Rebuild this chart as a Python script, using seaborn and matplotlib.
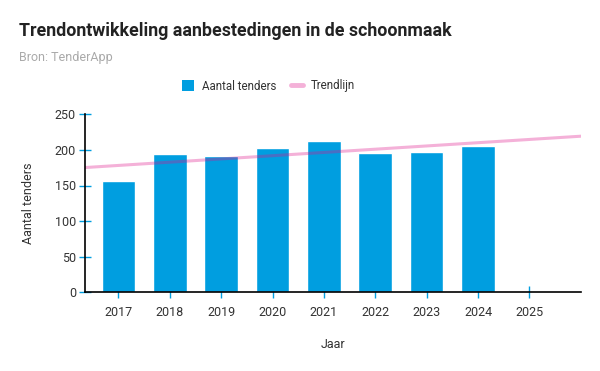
import numpy as np
import pandas as pd
import matplotlib
matplotlib.use("Agg")
import matplotlib.pyplot as plt
import seaborn as sns
from matplotlib.patches import Patch
from matplotlib.lines import Line2D

years = ["2017", "2018", "2019", "2020", "2021", "2022", "2023", "2024", "2025"]
tenders = [156, 194, 191, 202, 212, 196, 197, 205, np.nan]
title = "Trendontwikkeling aanbestedingen in de schoonmaak"
subtitle = "Bron: TenderApp"
bar_label = "Aantal tenders"
trend_label = "Trendlijn"
x_label = "Jaar"
y_label = "Aantal tenders"
y_ticks = [0, 50, 100, 150, 200, 250]

sns.set_theme(style="white")
plt.rcParams["font.family"] = ["Roboto", "DejaVu Sans"]

BLUE = "#009ee0"
PINK = "#de128a"
PINK_ALPHA = 0.33
TXT = "#333333"

df = pd.DataFrame({"year": years, "tenders": tenders})

fig = plt.figure(figsize=(6, 3.71), dpi=100)
ax = fig.add_axes([0.1417, 0.212, 0.968 - 0.1417, 0.692 - 0.212])

sns.barplot(data=df, x="year", y="tenders", order=years, color=BLUE,
            saturation=1, width=0.655, ax=ax, zorder=2)
ax.set_xlim(-0.65, 9.0)

fit = df.dropna()
xpos = np.array([years.index(y) for y in fit["year"]], dtype=float)
sns.regplot(x=xpos, y=fit["tenders"].values, ci=None, truncate=False,
            scatter=False, ax=ax,
            line_kws=dict(color=PINK, lw=2.2, alpha=PINK_ALPHA, zorder=3))
ax.set_xlim(-0.65, 9.0)
ax.set_ylim(0, 250)
ax.set_yticks(y_ticks)
ax.set_xticks(range(len(years)))
ax.set_xticklabels(years)

for s in ["top", "right"]:
    ax.spines[s].set_visible(False)
for s in ["left", "bottom"]:
    ax.spines[s].set_color("black")
    ax.spines[s].set_linewidth(1.2)
    ax.spines[s].set_zorder(4)

ax.tick_params(axis="both", direction="inout", length=9, width=1,
               color=BLUE, labelsize=9, labelcolor=TXT,
               bottom=True, left=True)
ax.tick_params(axis="x", pad=5)
ax.tick_params(axis="y", pad=2)
ax.set_xlabel(x_label, fontsize=9, color=TXT, labelpad=14)
ax.set_ylabel(y_label, fontsize=9, color=TXT, labelpad=14)

fig.text(19 / 600, 1 - 31 / 371, title, fontsize=12.8, fontweight="bold",
         color="#222222", va="center", ha="left")
fig.text(19 / 600, 1 - 58 / 371, subtitle, fontsize=9, color="#aaaaaa",
         va="center", ha="left")

handles = [Patch(facecolor=BLUE, edgecolor="none", label=bar_label),
           Line2D([0], [0], color=PINK, lw=3.5, alpha=PINK_ALPHA, label=trend_label)]
fig.legend(handles=handles, loc="center left",
           bbox_to_anchor=(172 / 600, 1 - 86 / 371),
           ncol=2, frameon=False, fontsize=8.3, handlelength=1.0,
           handleheight=1.0, columnspacing=1.3, handletextpad=0.7,
           labelcolor=TXT)

fig.savefig("out.png", dpi=100)
